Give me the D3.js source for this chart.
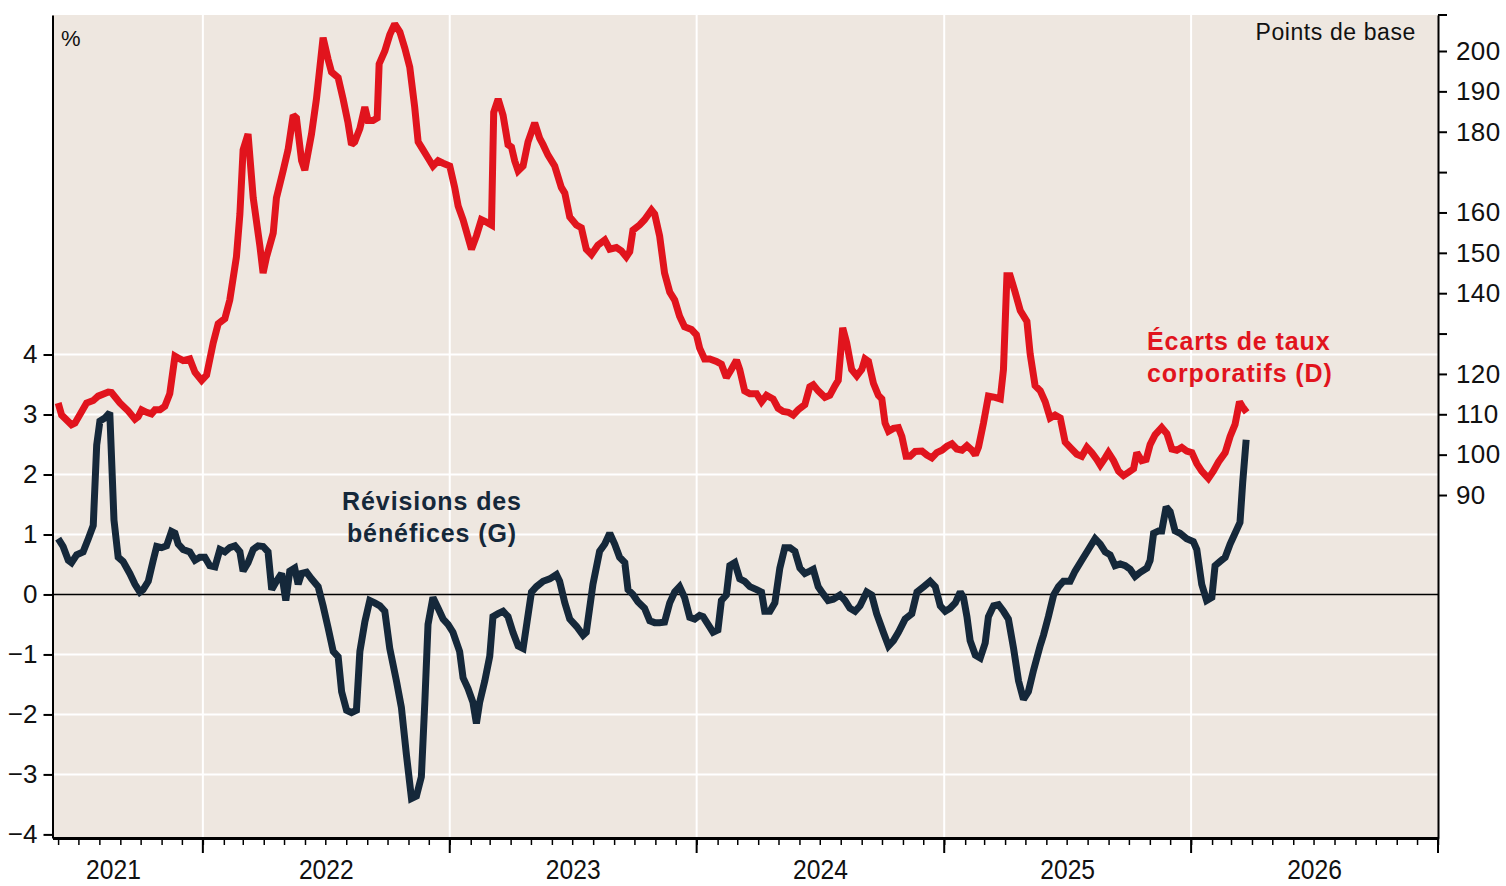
<!DOCTYPE html>
<html>
<head>
    <title>Révisions des bénéfices et écarts de taux</title>
    <script src="https://d3js.org/d3.v7.min.js"></script>
    <style>
        body { margin: 0; background: #fff; font-family: "Liberation Sans", Arial, sans-serif; }
        .axis text { fill: #111; }
    </style>
</head>
<body>
    <div id="chart"></div>
    <script>
        // dates as decimal years
        const spreads = [ // points de base, right axis
            [2021.414,112.8],[2021.428,109.8],[2021.468,107.4],[2021.482,107.8],[2021.529,112.8],[2021.556,113.4],
            [2021.576,114.5],[2021.617,115.5],[2021.630,115.4],[2021.664,112.8],[2021.698,110.8],[2021.725,108.8],
            [2021.738,109.4],[2021.752,111.1],[2021.772,110.5],[2021.792,110.1],[2021.806,111.1],[2021.826,111.1],
            [2021.846,112.0],[2021.866,115.1],[2021.887,124.4],[2021.907,123.7],[2021.920,123.3],[2021.947,123.7],
            [2021.968,120.4],[2021.995,118.4],[2022.015,119.7],[2022.042,127.7],[2022.062,132.4],[2022.089,133.7],
            [2022.109,138.3],[2022.136,149.0],[2022.150,159.6],[2022.163,175.5],[2022.183,179.4],[2022.204,163.6],
            [2022.231,151.7],[2022.244,145.0],[2022.258,149.0],[2022.285,154.9],[2022.298,163.6],[2022.325,170.3],
            [2022.345,175.5],[2022.366,184.1],[2022.379,183.4],[2022.400,172.8],[2022.413,170.5],[2022.440,179.4],
            [2022.460,188.1],[2022.487,203.3],[2022.507,198.0],[2022.521,194.8],[2022.548,193.4],[2022.568,188.1],
            [2022.588,182.2],[2022.602,176.8],[2022.615,177.5],[2022.636,180.8],[2022.656,186.1],[2022.669,182.8],
            [2022.689,182.8],[2022.706,183.4],[2022.714,196.8],[2022.737,200.0],[2022.757,204.0],[2022.777,206.7],
            [2022.798,204.7],[2022.818,200.7],[2022.838,196.0],[2022.858,186.1],[2022.872,177.5],[2022.892,175.5],
            [2022.912,173.5],[2022.932,171.5],[2022.953,172.8],[2022.973,172.2],[2023.000,171.5],[2023.020,166.2],
            [2023.034,161.6],[2023.054,158.2],[2023.088,150.9],[2023.108,154.2],[2023.128,158.2],[2023.149,157.6],
            [2023.169,156.9],[2023.178,184.8],[2023.196,188.1],[2023.216,184.1],[2023.236,176.8],[2023.250,176.2],
            [2023.263,172.8],[2023.277,170.3],[2023.297,171.5],[2023.317,177.5],[2023.344,182.2],[2023.364,178.4],
            [2023.378,176.8],[2023.398,174.2],[2023.425,171.5],[2023.452,166.2],[2023.466,164.8],[2023.486,158.9],
            [2023.513,156.9],[2023.533,156.2],[2023.553,150.9],[2023.574,149.6],[2023.600,151.9],[2023.628,153.2],
            [2023.648,150.9],[2023.675,151.3],[2023.695,150.5],[2023.715,149.0],[2023.729,150.3],[2023.742,155.6],
            [2023.769,156.9],[2023.789,158.2],[2023.817,160.6],[2023.830,159.6],[2023.850,154.2],[2023.870,145.0],
            [2023.891,140.3],[2023.911,138.3],[2023.931,134.3],[2023.951,131.7],[2023.979,131.0],[2023.999,129.7],
            [2024.012,126.4],[2024.032,123.7],[2024.053,123.7],[2024.080,123.1],[2024.100,122.4],[2024.120,119.1],
            [2024.140,121.1],[2024.161,123.4],[2024.174,121.1],[2024.194,115.8],[2024.215,115.1],[2024.242,115.1],
            [2024.262,113.1],[2024.282,114.7],[2024.309,113.8],[2024.329,111.5],[2024.349,110.7],[2024.370,110.5],
            [2024.390,109.8],[2024.410,111.1],[2024.437,112.4],[2024.457,116.8],[2024.471,117.3],[2024.491,115.8],
            [2024.518,114.2],[2024.538,114.7],[2024.559,117.1],[2024.572,118.4],[2024.590,131.4],[2024.606,127.7],
            [2024.626,121.1],[2024.647,119.5],[2024.667,121.1],[2024.680,123.7],[2024.694,123.1],[2024.714,117.7],
            [2024.734,114.7],[2024.748,113.8],[2024.761,107.8],[2024.775,105.8],[2024.795,106.5],[2024.815,106.7],
            [2024.829,104.5],[2024.846,99.6],[2024.862,99.6],[2024.883,100.8],[2024.910,100.9],[2024.930,99.9],
            [2024.950,99.2],[2024.970,100.5],[2024.991,101.1],[2025.011,102.1],[2025.031,102.7],[2025.051,101.4],
            [2025.072,101.1],[2025.092,102.2],[2025.112,101.1],[2025.126,99.9],[2025.139,101.9],[2025.159,107.8],
            [2025.179,114.5],[2025.206,114.2],[2025.227,113.8],[2025.240,121.1],[2025.254,144.3],[2025.267,144.3],
            [2025.287,140.3],[2025.308,135.7],[2025.335,133.0],[2025.348,125.0],[2025.368,117.1],[2025.389,115.8],
            [2025.409,113.1],[2025.429,109.1],[2025.449,109.8],[2025.470,109.1],[2025.490,103.1],[2025.510,101.8],
            [2025.537,100.1],[2025.557,99.6],[2025.578,101.8],[2025.598,100.5],[2025.618,98.8],[2025.632,97.4],
            [2025.652,99.2],[2025.665,100.5],[2025.686,98.5],[2025.706,95.9],[2025.726,94.8],[2025.746,95.6],
            [2025.767,96.5],[2025.780,100.5],[2025.800,98.5],[2025.818,98.8],[2025.834,102.5],[2025.854,104.9],
            [2025.881,106.7],[2025.902,105.2],[2025.922,101.4],[2025.942,101.1],[2025.962,101.8],[2025.982,100.9],
            [2026.003,100.5],[2026.023,97.8],[2026.043,95.9],[2026.070,94.1],[2026.090,95.9],[2026.111,98.2],
            [2026.138,100.5],[2026.158,104.5],[2026.178,107.5],[2026.196,113.1],[2026.209,111.8],[2026.225,110.5]
        ];

        const revisions = [ // %, left axis
            [2021.414,0.93],[2021.434,0.80],[2021.455,0.57],[2021.468,0.53],[2021.489,0.66],[2021.515,0.71],
            [2021.536,0.93],[2021.556,1.15],[2021.570,2.49],[2021.583,2.89],[2021.603,2.94],[2021.623,3.03],
            [2021.640,1.24],[2021.657,0.62],[2021.677,0.55],[2021.704,0.35],[2021.725,0.17],[2021.745,0.04],
            [2021.758,0.08],[2021.779,0.22],[2021.799,0.57],[2021.813,0.80],[2021.833,0.78],[2021.853,0.81],
            [2021.873,1.05],[2021.887,1.02],[2021.900,0.84],[2021.920,0.75],[2021.947,0.71],[2021.968,0.57],
            [2021.988,0.62],[2022.008,0.62],[2022.028,0.48],[2022.049,0.46],[2022.069,0.75],[2022.089,0.71],
            [2022.109,0.78],[2022.130,0.81],[2022.150,0.71],[2022.163,0.39],[2022.183,0.53],[2022.204,0.75],
            [2022.224,0.81],[2022.244,0.80],[2022.264,0.71],[2022.279,0.08],[2022.298,0.22],[2022.319,0.35],
            [2022.336,-0.10],[2022.352,0.39],[2022.372,0.44],[2022.386,0.17],[2022.400,0.35],[2022.420,0.37],
            [2022.440,0.26],[2022.467,0.13],[2022.487,-0.19],[2022.507,-0.55],[2022.528,-0.95],[2022.548,-1.04],
            [2022.562,-1.62],[2022.582,-1.93],[2022.602,-1.97],[2022.622,-1.93],[2022.636,-0.95],[2022.656,-0.46],
            [2022.676,-0.10],[2022.696,-0.14],[2022.717,-0.19],[2022.737,-0.28],[2022.757,-0.90],[2022.784,-1.44],
            [2022.804,-1.88],[2022.825,-2.69],[2022.845,-3.40],[2022.865,-3.36],[2022.885,-3.04],[2022.899,-1.80],
            [2022.912,-0.50],[2022.932,-0.05],[2022.953,-0.23],[2022.973,-0.41],[2022.993,-0.50],[2023.013,-0.63],
            [2023.040,-0.95],[2023.054,-1.39],[2023.074,-1.57],[2023.094,-1.80],[2023.108,-2.15],[2023.121,-1.80],
            [2023.142,-1.44],[2023.162,-1.03],[2023.175,-0.37],[2023.196,-0.32],[2023.216,-0.28],[2023.236,-0.37],
            [2023.256,-0.63],[2023.277,-0.86],[2023.297,-0.90],[2023.313,-0.46],[2023.331,0.04],[2023.351,0.13],
            [2023.378,0.22],[2023.405,0.26],[2023.432,0.33],[2023.445,0.22],[2023.466,-0.14],[2023.486,-0.41],
            [2023.513,-0.53],[2023.540,-0.68],[2023.553,-0.63],[2023.580,0.17],[2023.607,0.72],[2023.628,0.84],
            [2023.648,1.02],[2023.668,0.84],[2023.688,0.62],[2023.709,0.53],[2023.722,0.08],[2023.742,0.00],
            [2023.762,-0.12],[2023.789,-0.23],[2023.810,-0.44],[2023.830,-0.47],[2023.850,-0.47],[2023.870,-0.46],
            [2023.891,-0.14],[2023.911,0.04],[2023.931,0.13],[2023.951,-0.05],[2023.972,-0.38],[2023.992,-0.41],
            [2024.012,-0.35],[2024.026,-0.37],[2024.046,-0.50],[2024.066,-0.63],[2024.086,-0.59],[2024.100,-0.10],
            [2024.120,-0.01],[2024.134,0.48],[2024.154,0.53],[2024.174,0.26],[2024.194,0.22],[2024.215,0.13],
            [2024.242,0.08],[2024.262,0.04],[2024.275,-0.28],[2024.296,-0.28],[2024.316,-0.14],[2024.336,0.44],
            [2024.356,0.78],[2024.377,0.78],[2024.397,0.72],[2024.417,0.44],[2024.437,0.35],[2024.457,0.39],
            [2024.471,0.42],[2024.491,0.13],[2024.511,0.01],[2024.531,-0.10],[2024.552,-0.08],[2024.579,-0.01],
            [2024.599,-0.10],[2024.619,-0.23],[2024.640,-0.28],[2024.660,-0.19],[2024.687,0.04],[2024.707,-0.01],
            [2024.727,-0.32],[2024.754,-0.63],[2024.775,-0.86],[2024.795,-0.77],[2024.815,-0.63],[2024.842,-0.41],
            [2024.869,-0.32],[2024.890,0.04],[2024.917,0.13],[2024.943,0.22],[2024.964,0.13],[2024.984,-0.19],
            [2025.004,-0.28],[2025.024,-0.23],[2025.045,-0.14],[2025.065,0.04],[2025.078,-0.05],[2025.092,-0.37],
            [2025.105,-0.77],[2025.126,-1.01],[2025.146,-1.06],[2025.166,-0.81],[2025.179,-0.37],[2025.200,-0.19],
            [2025.220,-0.17],[2025.240,-0.28],[2025.260,-0.41],[2025.281,-0.90],[2025.301,-1.44],[2025.321,-1.75],
            [2025.341,-1.62],[2025.362,-1.26],[2025.389,-0.85],[2025.402,-0.68],[2025.422,-0.37],[2025.443,-0.01],
            [2025.463,0.13],[2025.483,0.22],[2025.510,0.22],[2025.530,0.39],[2025.557,0.57],[2025.584,0.75],
            [2025.611,0.93],[2025.632,0.84],[2025.652,0.71],[2025.672,0.66],[2025.692,0.48],[2025.713,0.51],
            [2025.733,0.48],[2025.753,0.42],[2025.773,0.30],[2025.794,0.37],[2025.821,0.44],[2025.834,0.57],
            [2025.848,1.02],[2025.868,1.06],[2025.881,1.06],[2025.899,1.46],[2025.915,1.38],[2025.935,1.06],
            [2025.955,1.02],[2025.982,0.93],[2026.009,0.88],[2026.023,0.75],[2026.043,0.17],[2026.063,-0.10],
            [2026.084,-0.05],[2026.097,0.48],[2026.117,0.55],[2026.138,0.62],[2026.158,0.84],[2026.178,1.02],
            [2026.198,1.20],[2026.209,1.87],[2026.223,2.58]
        ];

        const leftTicks = [-4, -3, -2, -1, 0, 1, 2, 3, 4];
        const rightTicks = [90, 100, 110, 120, 130, 140, 150, 160, 170, 180, 190, 200];
        const rightUnlabeled = [130, 170];
        const years = [2022, 2023, 2024, 2025, 2026, 2027];
        const yearLabels = [["2021", 2021.638], ["2022", 2022.5], ["2023", 2023.5], ["2024", 2024.5], ["2025", 2025.5], ["2026", 2026.5]];

        const red = "#e1141d", navy = "#15283a";
        const width = 1506, height = 886;
        const m = { left: 52.5, right: 1438, top: 15, bottom: 838 };

        // decimal year -> Date
        function toDate(t) {
            const y = Math.floor(t);
            const a = new Date(y, 0, 1), b = new Date(y + 1, 0, 1);
            return new Date(+a + (t - y) * (b - a));
        }

        const x = d3.scaleTime()
            .domain([toDate(2021.391), toDate(2027)])
            .range([m.left, m.right]);
        const yL = d3.scaleLinear().domain([-4.06, 9.66]).range([m.bottom, m.top]);
        const yR = d3.scaleLinear().domain([5.03, 208.92]).range([m.bottom, m.top]);

        const svg = d3.select("#chart").append("svg")
            .attr("width", width)
            .attr("height", height);

        svg.append("rect")
            .attr("x", m.left).attr("y", m.top)
            .attr("width", m.right - m.left).attr("height", m.bottom - m.top)
            .attr("fill", "#eee7e0");

        // white grid
        svg.append("g").selectAll("line")
            .data(leftTicks.filter(d => d !== 0 && d !== -4))
            .join("line")
            .attr("x1", m.left).attr("x2", m.right)
            .attr("y1", d => yL(d)).attr("y2", d => yL(d))
            .attr("stroke", "#fff").attr("stroke-width", 2);

        svg.append("g").selectAll("line")
            .data(years.slice(0, -1))
            .join("line")
            .attr("x1", d => x(toDate(d))).attr("x2", d => x(toDate(d)))
            .attr("y1", m.top).attr("y2", m.bottom)
            .attr("stroke", "#fff").attr("stroke-width", 2);

        svg.append("line")
            .attr("x1", m.left).attr("x2", m.right)
            .attr("y1", yL(0)).attr("y2", yL(0))
            .attr("stroke", "#000").attr("stroke-width", 1.5);

        // series
        const lineL = d3.line().x(d => x(toDate(d[0]))).y(d => yL(d[1]));
        const lineR = d3.line().x(d => x(toDate(d[0]))).y(d => yR(d[1]));

        svg.append("path").datum(spreads)
            .attr("d", lineR)
            .attr("fill", "none").attr("stroke", red)
            .attr("stroke-width", 7).attr("stroke-linejoin", "miter").attr("stroke-miterlimit", 2);

        svg.append("path").datum(revisions)
            .attr("d", lineL)
            .attr("fill", "none").attr("stroke", navy)
            .attr("stroke-width", 7).attr("stroke-linejoin", "miter").attr("stroke-miterlimit", 2);

        // left axis
        const axL = svg.append("g").attr("class", "axis")
            .attr("transform", `translate(${m.left},0)`)
            .call(d3.axisLeft(yL).tickValues(leftTicks).tickSize(9).tickSizeOuter(0).tickPadding(6));
        axL.selectAll("text").attr("font-size", 26).attr("font-family", "Liberation Sans, Arial");
        axL.selectAll("line, path").attr("stroke", "#000").attr("stroke-width", 2);

        // right axis
        const axR = svg.append("g").attr("class", "axis")
            .attr("transform", `translate(${m.right},0)`)
            .call(d3.axisRight(yR).tickValues(rightTicks).tickSize(9).tickSizeOuter(0).tickPadding(9)
                .tickFormat(d => rightUnlabeled.includes(d) ? "" : d));
        axR.selectAll("text").attr("font-size", 26).attr("letter-spacing", 0.4).attr("font-family", "Liberation Sans, Arial");
        axR.selectAll("line, path").attr("stroke", "#000").attr("stroke-width", 2);
        axR.append("line").attr("x1", 0).attr("x2", 9).attr("y1", m.top).attr("y2", m.top)
            .attr("stroke", "#000").attr("stroke-width", 2);

        // bottom axis: monthly minor ticks, yearly major ticks
        const axB = svg.append("g").attr("class", "axis")
            .attr("transform", `translate(0,${m.bottom})`);
        axB.call(d3.axisBottom(x).ticks(d3.timeMonth.every(1)).tickSize(7).tickSizeOuter(0).tickFormat(""));
        axB.selectAll(".tick line").attr("stroke", "#000").attr("stroke-width", 1.5);
        axB.select("path").attr("stroke", "#000").attr("stroke-width", 3);
        axB.selectAll("line.major")
            .data(years)
            .join("line")
            .attr("x1", d => x(toDate(d))).attr("x2", d => x(toDate(d)))
            .attr("y1", 0).attr("y2", 15)
            .attr("stroke", "#000").attr("stroke-width", 2);
        // condensed year labels (narrow, tall digits as in the source)
        axB.selectAll("text.yl")
            .data(yearLabels)
            .join("text")
            .attr("transform", d => `translate(${x(toDate(d[1]))},41) scale(0.88,1)`)
            .attr("text-anchor", "middle")
            .attr("font-size", 28)
            .attr("fill", "#111")
            .text(d => d[0]);

        // labels
        svg.append("text").attr("x", 61).attr("y", 46)
            .attr("font-size", 22).attr("fill", "#111").text("%");
        svg.append("text").attr("x", 1416).attr("y", 40)
            .attr("text-anchor", "end").attr("font-size", 23).attr("letter-spacing", 0.6)
            .attr("fill", "#111").text("Points de base");

        const ann1 = svg.append("text").attr("font-size", 25).attr("font-weight", "bold")
            .attr("letter-spacing", 0.9).attr("fill", navy).attr("text-anchor", "middle");
        ann1.append("tspan").attr("x", 432).attr("y", 510).text("Révisions des");
        ann1.append("tspan").attr("x", 432).attr("y", 542).text("bénéfices (G)");

        const ann2 = svg.append("text").attr("font-size", 25).attr("font-weight", "bold")
            .attr("letter-spacing", 0.9).attr("fill", red);
        ann2.append("tspan").attr("x", 1147).attr("y", 350).text("Écarts de taux");
        ann2.append("tspan").attr("x", 1147).attr("y", 382).text("corporatifs (D)");
    </script>
</body>
</html>
